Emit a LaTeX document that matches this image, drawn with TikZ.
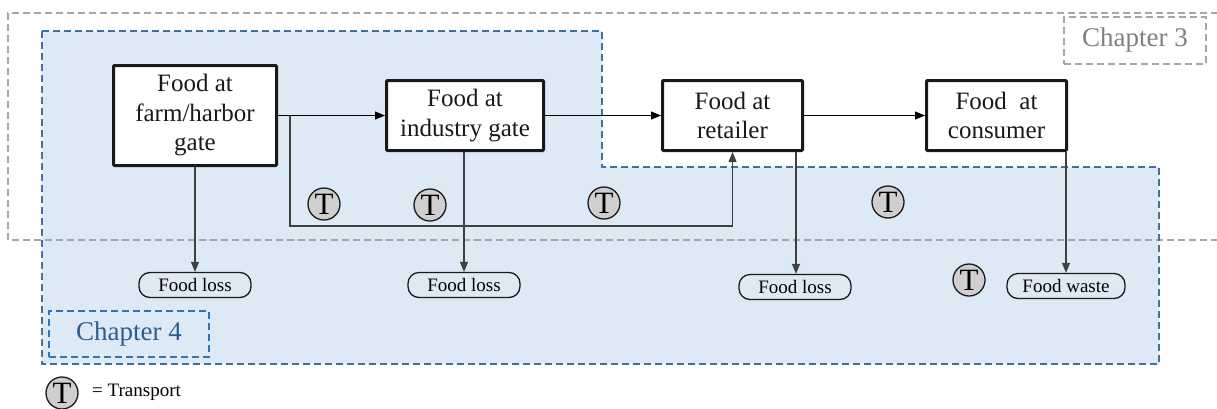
\documentclass[tikz,border=0pt]{standalone}
\usepackage{fontspec}
\setmainfont{Liberation Serif}
\usetikzlibrary{arrows.meta,calc}

\definecolor{regionfill}{HTML}{DEE9F6}
\definecolor{regionline}{HTML}{41719C}
\definecolor{chapfourline}{HTML}{2E75B6}
\definecolor{chapfourtext}{HTML}{2E5E8E}
\definecolor{chapthree}{HTML}{A6A6A6}
\definecolor{chapthreetext}{HTML}{808080}
\definecolor{tfill}{HTML}{D0CECE}
\definecolor{flowline}{HTML}{404040}

\tikzset{
  stage/.style={draw=black!90, line width=3pt, fill=white, rounded corners=1pt,
    align=center, inner sep=2pt, text=black!90,
    font=\fontsize{25}{29.5}\selectfont},
  outcome/.style={draw=black!90, line width=1.3pt, fill=regionfill,
    rounded corners=11pt, minimum height=25pt, inner sep=0pt,
    font=\fontsize{19}{20}\selectfont},
  transport/.style={circle, draw=black!90, line width=1.3pt, fill=tfill,
    minimum size=32pt, inner sep=0pt, font=\fontsize{31}{31}\selectfont},
  flow/.style={draw=black, line width=1pt, -{Triangle[length=10pt,width=8pt]}},
  drop/.style={draw=flowline, line width=1.1pt, -{Triangle[length=10pt,width=8pt]}},
  graydash/.style={draw=chapthree, line width=1.2pt, dash pattern=on 7pt off 4pt},
  bluedash/.style={draw=regionline, line width=1.5pt, dash pattern=on 7pt off 4pt},
}

\begin{document}
\begin{tikzpicture}[x=1pt, y=-1pt]
  \useasboundingbox (0,0) rectangle (1217,408);
  \clip (0,0) rectangle (1217,408);

  % Chapter 4 scope: shaded stepped region
  \fill[regionfill] (42,31) -- (602,31) -- (602,167) -- (1159,167)
    -- (1159,364) -- (42,364) -- cycle;

  % Chapter 3 scope: grey dashed frame running off to the right
  \draw[graydash] (1240,13) -- (8,13) -- (8,240) -- (1240,240);

  \draw[bluedash] (42,31) -- (602,31) -- (602,167) -- (1159,167)
    -- (1159,364) -- (42,364) -- cycle;

  % chapter labels
  \node[graydash, minimum width=142pt, minimum height=47pt, inner sep=0pt,
    text=chapthreetext, font=\fontsize{27}{27}\selectfont]
    (ch3) at (1135,40.5) {Chapter 3};
  \node[draw=chapfourline, line width=1.5pt, dash pattern=on 7pt off 4pt,
    minimum width=160pt, minimum height=46pt, inner sep=0pt,
    text=chapfourtext, font=\fontsize{27}{27}\selectfont]
    (ch4) at (129,334) {Chapter 4};

  % supply chain stages
  \node[stage, minimum width=163pt, minimum height=100pt] (farm) at (195,115.5)
    {Food at\\farm/harbor\\gate};
  \node[stage, minimum width=157pt, minimum height=70pt] (ind) at (465,115.5)
    {Food at\\industry gate};
  \node[stage, minimum width=140pt, minimum height=70pt] (ret) at (732.5,115.5)
    {Food at\\retailer};
  \node[stage, minimum width=140pt, minimum height=70pt] (con) at (996.5,115.5)
    {Food\ \ at\\consumer};

  % losses and waste
  \node[outcome, minimum width=112pt] (fl1) at (195,285) {Food loss};
  \node[outcome, minimum width=112pt] (fl2) at (464,285) {Food loss};
  \node[outcome, minimum width=112pt] (fl3) at (795,287) {Food loss};
  \node[outcome, minimum width=118pt] (fw) at (1066,286) {Food waste};

  % main flow
  \draw[flow] (farm.east |- 0,115.5) -- (ind.west |- 0,115.5);
  \draw[flow] (ind.east |- 0,115.5) -- (ret.west |- 0,115.5);
  \draw[flow] (ret.east |- 0,115.5) -- (con.west |- 0,115.5);

  % direct route from farm to retailer
  \coordinate (br) at (290,115.5);
  \coordinate (brc) at (ret.south |- 0,226);
  \draw[drop] (br) |- (brc) -- (ret.south);

  % drops to losses
  \draw[drop] (farm.south) -- (fl1.north);
  \draw[drop] (fl2.north |- ind.south) -- (fl2.north);
  \draw[drop] (ret.south -| 796,0) -- (fl3.north -| 796,0);
  \draw[drop] (con.south -| fw.north) -- (fw.north);

  % transport markers
  \node[transport] (t1) at (324,204) {T};
  \node[transport] (t2) at (430,205) {T};
  \node[transport] (t3) at (604,203) {T};
  \node[transport] (t4) at (888,202) {T};
  \node[transport] (t5) at (969,280) {T};

  % legend
  \node[transport] (tl) at (62,393) {T};
  \node[anchor=west, inner sep=0pt, font=\fontsize{19}{20}\selectfont]
    (legend) at (92,392) {= Transport};
\end{tikzpicture}
\end{document}
